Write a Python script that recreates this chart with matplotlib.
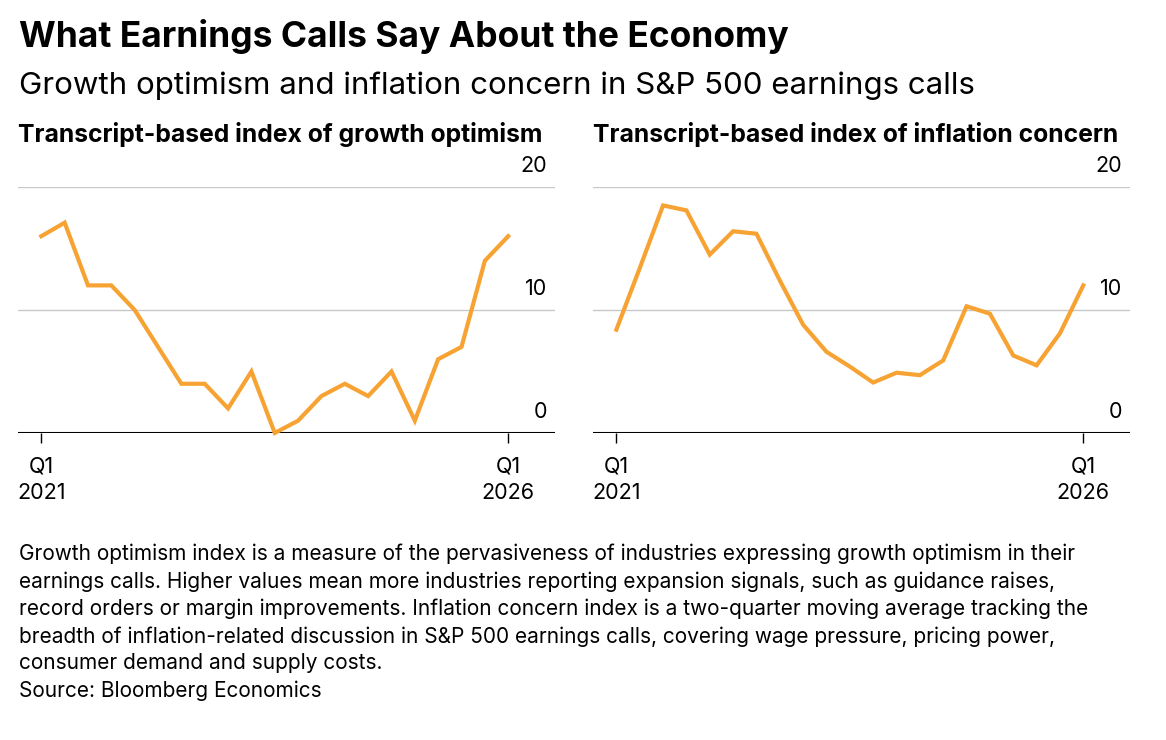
"""
Earnings calls: growth optimism vs inflation concern
"""
import matplotlib
matplotlib.use("Agg")
import matplotlib.pyplot as plt

plt.rcParams['font.family'] = ['Inter', 'DejaVu Sans']

# quarterly values, Q1 2021 .. Q1 2026
growth = [16.0, 17.1, 12.0, 12.0, 10.0, 7.0, 4.0, 4.0, 2.0, 5.0, 0.0,
          1.0, 3.0, 4.0, 3.0, 5.0, 1.0, 6.0, 7.0, 14.0, 16.0]
inflation = [8.4, 13.4, 18.5, 18.1, 14.5, 16.4, 16.2, 12.4, 8.8, 6.6, 5.4,
             4.1, 4.9, 4.7, 5.9, 10.3, 9.7, 6.3, 5.5, 8.1, 12.0]

LINE = '#f7a333'
GRID = '#c8c8c8'

fig = plt.figure(figsize=(11.66, 7.4), dpi=100)

fig.text(0.016, 0.950, 'What Earnings Calls Say About the Economy',
         fontsize=25.5, fontweight='bold', va='center')
fig.text(0.016, 0.884, 'Growth optimism and inflation concern in S&P 500 earnings calls',
         fontsize=22.5, va='center')

panels = [
    (0.0154, growth, 'Transcript-based index of growth optimism'),
    (0.5086, inflation, 'Transcript-based index of inflation concern'),
]

for left, data, label in panels:
    ax = fig.add_axes([left, 0.4149, 0.4605, 0.3324])
    x = list(range(len(data)))
    ax.plot(x, data, color=LINE, lw=3, solid_joinstyle='miter', clip_on=False)
    ax.set_ylim(0, 20)
    ax.set_xlim(-1.0, 22.0)
    for v in (10, 20):
        ax.axhline(v, color=GRID, lw=1, zorder=0)
    ax.axhline(0, color='black', lw=1.5, zorder=0)
    for v in (0, 10, 20):
        ax.text(0.985, v + 0.9, str(v), transform=ax.get_yaxis_transform(),
                ha='right', va='bottom', fontsize=15.5)
    for s in ax.spines.values():
        s.set_visible(False)
    ax.set_yticks([])
    ax.set_xticks([0, 20])
    ax.set_xticklabels(['Q1\n2021', 'Q1\n2026'], fontsize=15.5, linespacing=1.4)
    ax.tick_params(axis='x', length=7, width=1, pad=10)
    ax.text(0.0, 1.215, label, transform=ax.transAxes, fontsize=17.8,
            fontweight='bold', va='center')

note = ("Growth optimism index is a measure of the pervasiveness of industries expressing growth optimism in their\n"
        "earnings calls. Higher values mean more industries reporting expansion signals, such as guidance raises,\n"
        "record orders or margin improvements. Inflation concern index is a two-quarter moving average tracking the\n"
        "breadth of inflation-related discussion in S&P 500 earnings calls, covering wage pressure, pricing power,\n"
        "consumer demand and supply costs.\n"
        "Source: Bloomberg Economics")
fig.text(0.016, 0.265, note, fontsize=15, va='top', linespacing=1.42)

fig.savefig('out.png', dpi=100)
